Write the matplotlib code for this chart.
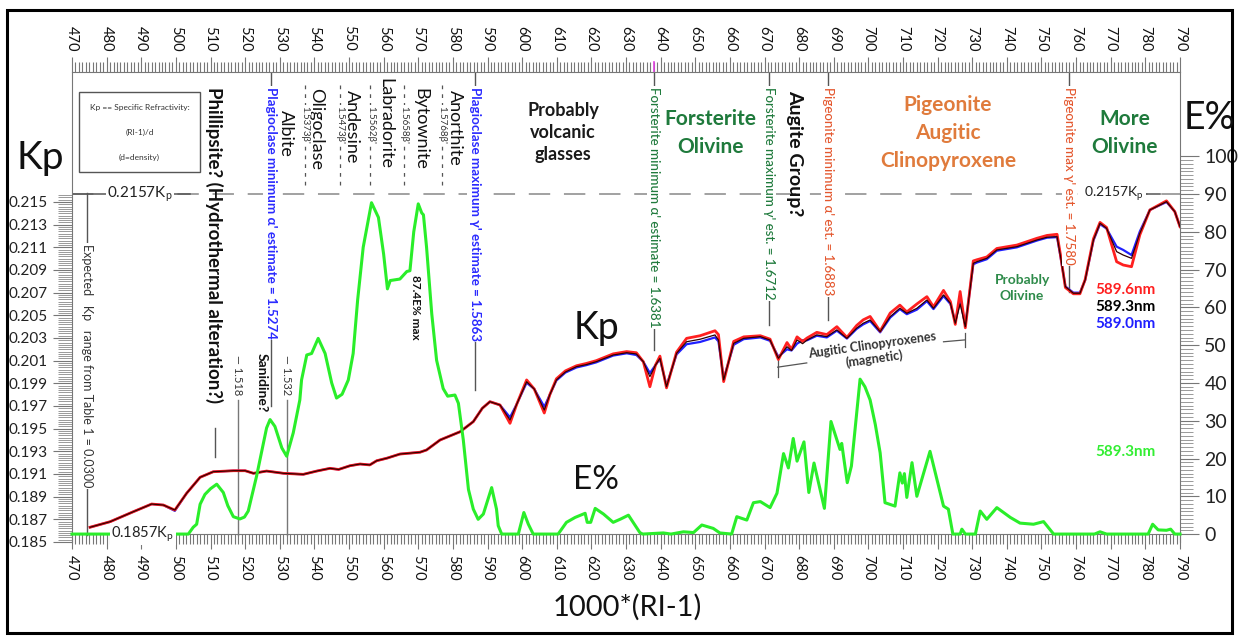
import matplotlib.pyplot as plt
from matplotlib.patches import Rectangle
from matplotlib.ticker import MultipleLocator, FixedLocator, FormatStrFormatter
import numpy as np

plt.rcParams['font.family'] = ['Lato', 'DejaVu Sans']
plt.rcParams['mathtext.default'] = 'regular'

# 1000*(RI-1) positions for the specific refractivity curves
ri = [475.2, 481.0, 487.7, 493.0, 496.4, 499.7, 503.1, 507.0, 510.8, 516.6,
      520.0, 522.4, 526.2, 531.1, 536.8, 540.7, 544.5, 547.0, 550.3, 553.2,
      556.0, 558.0, 561.0, 564.7, 570.5, 572.4, 576.3, 582.1, 585.9, 588.5,
      590.7, 593.6, 596.5, 598.5, 601.3, 603.5, 606.4, 608.0, 609.9, 612.5,
      615.7, 618.5, 621.4, 626.3, 630.2, 633.0, 635.0, 636.9, 638.5, 639.8,
      641.7, 644.6, 647.5, 651.4, 655.7, 656.7, 658.2, 661.1, 664.0, 668.8,
      671.6, 674.0, 676.5, 677.8, 679.4, 681.0, 682.3, 685.1, 688.0, 690.9,
      693.8, 696.6, 698.5, 700.5, 703.4, 706.3, 709.1, 711.1, 714.0, 716.9,
      718.8, 721.7, 723.7, 725.1, 726.5, 728.0, 730.3, 731.3, 734.2, 737.1,
      742.9, 748.7, 751.6, 754.5, 755.5, 756.9, 759.2, 761.1, 762.6, 765.0,
      766.9, 768.8, 771.7, 773.6, 776.0, 778.4, 781.3, 786.1, 788.5, 790.0]

kp_589_3 = [.18630, .18679, .18767, .18835, .18826, .18782, .18930, .19071, .19120, .19129,
            .19129, .19106, .19126, .19106, .19097, .19126, .19150, .19140, .19173, .19188,
            .19180, .19217, .19240, .19276, .19292, .19312, .19400, .19473, .19562, .19680,
            .19738, .19709, .19577, .19720, .19914, .19850, .19665, .19800, .19930, .20000,
            .20047, .20065, .20091, .20150, .20170, .20159, .20091, .19959, .20060, .20121,
            .19870, .20165, .20267, .20289, .20327, .20282, .19930, .20253, .20297, .20312,
            .20282, .20121, .20223, .20190, .20282, .20250, .20282, .20327, .20312, .20371,
            .20297, .20386, .20430, .20459, .20356, .20488, .20562, .20518, .20562, .20635,
            .20562, .20680, .20606, .20430, .20600, .20400, .20959, .20973, .21003, .21077,
            .21106, .21165, .21189, .21194, .21018, .20753, .20695, .20695, .20812, .21165,
            .21312, .21268, .21062, .21032, .21003, .21224, .21430, .21503, .21415, .21282]

kp_589_6 = [.18630, .18679, .18767, .18835, .18826, .18782, .18930, .19071, .19120, .19129,
            .19129, .19106, .19126, .19106, .19097, .19126, .19150, .19140, .19173, .19188,
            .19180, .19217, .19240, .19276, .19292, .19312, .19400, .19473, .19562, .19680,
            .19738, .19709, .19547, .19720, .19930, .19850, .19638, .19800, .19940, .20010,
            .20055, .20075, .20100, .20160, .20180, .20170, .20091, .19870, .20060, .20140,
            .19860, .20175, .20297, .20320, .20364, .20330, .19915, .20270, .20310, .20320,
            .20290, .20110, .20260, .20200, .20310, .20270, .20300, .20350, .20330, .20400,
            .20305, .20410, .20460, .20490, .20360, .20520, .20590, .20530, .20600, .20665,
            .20575, .20720, .20620, .20420, .20710, .20390, .20980, .20990, .21015, .21090,
            .21120, .21180, .21205, .21215, .21030, .20745, .20690, .20690, .20815, .21175,
            .21320, .21275, .20973, .20944, .20929, .21210, .21430, .21510, .21415, .21282]

kp_589_0 = [.18630, .18679, .18767, .18835, .18826, .18775, .18930, .19071, .19120, .19129,
            .19129, .19106, .19126, .19106, .19097, .19126, .19150, .19140, .19173, .19188,
            .19180, .19217, .19240, .19276, .19292, .19312, .19400, .19473, .19562, .19680,
            .19738, .19709, .19600, .19720, .19905, .19850, .19693, .19800, .19925, .19995,
            .20040, .20060, .20085, .20145, .20165, .20150, .20091, .19990, .20060, .20115,
            .19880, .20155, .20245, .20265, .20305, .20270, .19940, .20240, .20290, .20305,
            .20275, .20135, .20200, .20190, .20250, .20280, .20280, .20320, .20305, .20365,
            .20295, .20380, .20420, .20450, .20350, .20480, .20555, .20510, .20550, .20625,
            .20555, .20670, .20600, .20440, .20640, .20410, .20950, .20965, .20995, .21070,
            .21100, .21160, .21185, .21190, .21015, .20755, .20700, .20700, .20810, .21160,
            .21305, .21265, .21106, .21077, .21032, .21240, .21430, .21500, .21415, .21282]

# E% curve at 589.3nm
e_ri = [470.0, 503.6, 505.0, 506.0, 507.0, 508.4, 510.0, 511.8, 513.7, 515.0,
        516.6, 518.5, 519.8, 520.9, 523.3, 526.2, 527.2, 528.6, 530.6, 532.0,
        533.9, 535.8, 536.3, 537.8, 539.2, 541.1, 543.1, 545.0, 546.4, 548.0,
        549.8, 551.2, 552.5, 554.1, 556.5, 558.5, 560.0, 561.1, 561.9, 564.7,
        566.7, 567.6, 568.7, 570.0, 571.0, 571.5, 572.4, 573.9, 575.3, 577.2,
        578.5, 580.6, 581.6, 583.0, 584.5, 585.9, 587.3, 588.8, 591.2, 592.6,
        593.1, 594.1, 598.9, 600.5, 601.8, 603.2, 610.4, 612.8, 615.3, 618.2,
        618.8, 619.8, 621.1, 623.5, 626.3, 628.5, 630.7, 634.0, 634.8, 640.8,
        643.0, 646.6, 649.5, 651.9, 655.2, 657.1, 660.5, 662.0, 664.9, 666.8,
        668.8, 671.6, 673.6, 675.5, 676.9, 678.3, 679.4, 681.4, 682.8, 684.3,
        687.3, 689.2, 691.8, 692.3, 693.9, 695.1, 697.6, 699.0, 700.5, 702.0,
        703.4, 704.8, 707.7, 709.1, 709.8, 710.4, 711.1, 712.6, 714.0, 717.8,
        721.7, 723.1, 724.4, 726.5, 727.0, 728.0, 730.9, 732.3, 734.2, 737.1,
        741.0, 743.8, 747.7, 750.6, 753.5, 765.3, 766.9, 768.8, 780.8, 782.1,
        783.7, 786.1, 787.3, 788.5, 790.0]

e_pct = [0, 0, 1.8, 2.6, 7.9, 10.5, 12.0, 13.2, 11.0, 7.5,
         4.6, 4.0, 4.5, 6.1, 15.3, 28.1, 30.3, 28.5, 22.8, 20.6,
         26.8, 35.5, 40.8, 47.4, 47.8, 51.8, 47.8, 40.0, 36.0, 37.0,
         40.8, 47.8, 62.0, 75.9, 87.7, 83.8, 74.1, 64.9, 67.1, 67.5,
         69.5, 69.7, 80.0, 87.4, 85.0, 84.5, 75.9, 58.3, 46.0, 38.5,
         36.5, 36.8, 34.6, 25.0, 11.8, 6.6, 3.9, 5.3, 12.3, 6.6,
         2.2, 0, 0, 5.7, 2.6, 0, 0, 3.1, 4.4, 5.5,
         3.1, 3.1, 6.8, 5.3, 3.1, 4.0, 5.0, 0.4, 0, 0.3,
         0, 0.6, 0.4, 2.4, 1.5, 0.3, 0, 4.6, 3.7, 8.3,
         8.6, 7.0, 10.8, 21.3, 17.5, 25.3, 19.3, 24.4, 11.0, 18.8,
         6.8, 29.8, 22.4, 24.0, 13.6, 18.0, 41.0, 39.0, 35.5, 29.0,
         21.5, 8.3, 7.4, 16.2, 13.5, 16.0, 9.7, 18.9, 10.0, 21.9,
         7.4, 6.6, 0, 0, 1.3, 0, 0, 6.1, 3.9, 7.0,
         4.4, 2.9, 2.6, 3.3, 0, 0, 0.6, 0, 0, 2.6,
         1.1, 1.0, 1.3, 0, 0]

# feldspar beta' indices and mineral names
beta_ri = [537.3, 547.3, 556.2, 565.8, 576.8]
minerals = ["Albite", "Oligoclase", "Andesine", "Labradorite", "Bytownite", "Anorthite"]
mineral_ri = [531.8, 540.6, 550.9, 560.4, 570.5, 580.6]
mineral_top = [0.919, 0.966, 0.962, 0.987, 0.966, 0.962]

# estimate markers
est_ri = [527.4, 586.3, 638.1, 671.2, 688.3, 758.0]
est_text = ["Plagioclase minimum α' estimate = 1.5274",
            "Plagioclase maximum γ' estimate = 1.5863",
            "Forsterite minimum α' estimate = 1.6381",
            "Forsterite maximum γ' est. = 1.6712",
            "Pigeonite minimum α' est. = 1.6883",
            "Pigeonite max γ' est. = 1.7580"]
est_color = ['#2b2bff', '#2b2bff', '#1f7a3c', '#1f7a3c', '#e4572e', '#e4572e']
est_weight = ['bold', 'bold', 'medium', 'medium', 'medium', 'medium']
est_end = [0.29, 0.323, 0.408, 0.462, 0.472, 0.532]

GREEN = '#1f7a3c'

fig = plt.figure(figsize=(12.38, 6.36), dpi=100)
ax = fig.add_axes([0.05816, 0.1478, 0.89499, 0.73899])
ax.set_xlim(470, 790)
ax.set_ylim(0.185, 0.22647)
ax2 = ax.twinx()
ax2.set_ylim(-2.1, 122.3)

trans = ax.get_xaxis_transform()

# curves
ax.plot(ri, kp_589_0, color='#2020ff', lw=1.6, zorder=3)
ax.plot(ri, kp_589_6, color='#ff2020', lw=2.0, zorder=3)
ax.plot(ri, kp_589_3, color='#300000', lw=0.9, zorder=3)
ax2.plot(e_ri, e_pct, color='#2aee2a', lw=2.2, zorder=3, clip_on=False)

# spines
for s in ['top', 'left']:
    ax.spines[s].set_color('#777')
ax.spines['right'].set_visible(False)
ax.spines['bottom'].set_position(('data', 0.1857))
ax.spines['bottom'].set_color('#777')
for s in ['top', 'left', 'bottom']:
    ax2.spines[s].set_visible(False)
ax2.spines['right'].set_color('#777')

# x ticks top and bottom
ax.xaxis.set_major_locator(MultipleLocator(10))
ax.xaxis.set_minor_locator(MultipleLocator(1))
ax.tick_params(axis='x', which='both', top=True, labeltop=True, bottom=True,
               labelbottom=True, direction='out', color='#777', width=0.8)
ax.tick_params(axis='x', which='major', length=11, labelsize=10.5,
               labelrotation=-90, labelcolor='#111', pad=4)
ax.tick_params(axis='x', which='minor', length=7)

# left Kp ticks
ax.yaxis.set_major_locator(FixedLocator(np.arange(0.185, 0.2151, 0.002)))
ax.yaxis.set_minor_locator(FixedLocator(np.arange(0.185, 0.2158, 0.0002)))
ax.yaxis.set_major_formatter(FormatStrFormatter('%.3f'))
ax.tick_params(axis='y', which='major', length=14, labelsize=11, color='#777',
               labelcolor='#222')
ax.tick_params(axis='y', which='minor', length=10, color='#999', width=0.7)

# right E% ticks
ax2.yaxis.set_major_locator(FixedLocator(np.arange(0, 101, 10)))
ax2.yaxis.set_minor_locator(FixedLocator(np.arange(0, 101, 1)))
ax2.tick_params(axis='y', which='major', length=14, labelsize=14, color='#777',
                labelcolor='#222')
ax2.tick_params(axis='y', which='minor', length=9, color='#999', width=0.7)

white = dict(facecolor='white', edgecolor='none', pad=1.0)

# 0.2157 / 0.1857 Kp limits
ax.axhline(0.2157, color='#888', lw=1.1, ls=(0, (14, 9)), zorder=1)
ax.plot([470, 504.1], [0.2157, 0.2157], color='#555', lw=1.1, zorder=1)
ax.plot([778.5, 784.2], [0.2157, 0.2157], color='#555', lw=1.1, zorder=1)
ax.text(489.6, 0.2157, "0.2157K$_p$", fontsize=11, ha='center', va='center',
        color='#222', bbox=white, zorder=4)
ax.text(771.0, 0.2157, "0.2157K$_p$", fontsize=10, ha='center', va='center',
        color='#222', bbox=white, zorder=4)
ax2.text(490.5, 0, "0.1857K$_p$", fontsize=10.5, ha='center', va='center',
         color='#222', bbox=white, zorder=5)
ax.axvline(474.3, ymin=0.0149, ymax=0.7426, color='#555', lw=1)
ax.text(474.3, 0.3745, "Expected   Kp   range from Table 1 = 0.0300",
        rotation=-90, ha='center', va='center', fontsize=9, color='#333',
        transform=trans, bbox=white, zorder=4)
ax.plot([638.1, 638.1], [1.0, 1.022], transform=trans, color='#e040e0',
        lw=1.2, clip_on=False)

# legend box
ax.add_patch(Rectangle((472.0, 0.787), 35.0, 0.17, transform=trans,
                       fill=False, edgecolor='#555', lw=1))
for t, yy in zip(["Kp == Specific Refractivity:", "(RI-1)/d", "(d=density)"],
                 [0.9255, 0.872, 0.819]):
    ax.text(489.5, yy, t, transform=trans, fontsize=6, ha='center',
            va='center', color='#333')

# estimate markers
for x, t, c, w, e in zip(est_ri, est_text, est_color, est_weight, est_end):
    ax.axvline(x, ymin=e, ymax=1.0, color='#555', lw=1, zorder=2)
    ax.text(x, 0.968, t, rotation=-90, ha='center', va='top', fontsize=9.6,
            color=c, weight=w, transform=trans, bbox=white, zorder=4)

# feldspar beta' markers
for b in beta_ri:
    ax.axvline(b, ymin=0.76, ymax=0.983, color='#555', lw=0.9,
               ls=(0, (3, 4)), zorder=2)
    ax.text(b, 0.887, f"{1 + b / 1000:.4f}β'", rotation=-90, ha='center',
            va='center', fontsize=7, color='#333', transform=trans,
            bbox=white, zorder=4)
for name, x, top in zip(minerals, mineral_ri, mineral_top):
    ax.text(x, top, name, rotation=-90, ha='center', va='top', fontsize=13,
            color='#111', transform=trans)

# other vertical labels
ax.text(510.9, 0.968, "Phillipsite? (Hydrothermal alteration?)", rotation=-90,
        ha='center', va='top', fontsize=13.5, weight='bold', color='#111',
        transform=trans)
ax.axvline(511.3, ymin=0.181, ymax=0.243, color='#555', lw=1)
ax.text(524.9, 0.402, "Sanidine?", rotation=-90, ha='center', va='top',
        fontsize=10, weight='bold', color='#111', transform=trans)
for x, t in zip([517.9, 532.0], ["— 1.518", "— 1.532"]):
    ax.text(x, 0.398, t, rotation=-90, ha='center', va='top', fontsize=8,
            color='#333', transform=trans)
    ax.axvline(x, ymin=0.0149, ymax=0.302, color='#777', lw=1)
ax.text(569.3, 0.568, "87.4E% max", rotation=-90, ha='center', va='top',
        fontsize=8.5, weight='bold', color='#111', transform=trans)
ax.text(678.8, 0.962, "Augite Group?", rotation=-90, ha='center', va='top',
        fontsize=14, weight='bold', color='#111', transform=trans)

# region labels
ax.text(611.8, 0.872, "Probably\nvolcanic\nglasses", ha='center', va='center',
        fontsize=13, weight='bold', color='#1a1a1a', linespacing=1.35,
        transform=trans)
ax.text(654.5, 0.870, "Forsterite\nOlivine", ha='center', va='center',
        fontsize=15, weight='bold', color=GREEN, linespacing=1.5,
        transform=trans)
ax.text(723.0, 0.870, "Pigeonite\nAugitic\nClinopyroxene", ha='center',
        va='center', fontsize=15, weight='bold', color='#e07b3c',
        linespacing=1.5, transform=trans)
ax.text(774.1, 0.870, "More\nOlivine", ha='center', va='center', fontsize=15,
        weight='bold', color=GREEN, linespacing=1.5, transform=trans)
ax.text(744.4, 0.540, "Probably\nOlivine", ha='center', va='center',
        fontsize=10, weight='bold', color='#2e8b4a', linespacing=1.4,
        transform=trans)
ax.text(701.3, 0.404, "Augitic Clinopyroxenes\n(magnetic)", rotation=8,
        ha='center', va='center', fontsize=9, weight='bold', color='#333',
        transform=trans, rotation_mode='anchor')
ax.plot([673.8, 682.2], [0.372, 0.381], transform=trans, color='#555', lw=0.9)
ax.plot([673.8, 673.8], [0.351, 0.387], transform=trans, color='#555', lw=0.9)
ax.plot([721.7, 727.9], [0.426, 0.430], transform=trans, color='#555', lw=0.9)
ax.plot([727.9, 727.9], [0.415, 0.445], transform=trans, color='#555', lw=0.9)

# wavelength labels
for t, c, yy in zip(["589.6nm", "589.3nm", "589.0nm"],
                    ['#ff2020', 'black', '#2020ff'], [0.536, 0.500, 0.464]):
    ax.text(774.1, yy, t, ha='center', va='center', fontsize=11,
            weight='bold', color=c, transform=trans)
ax.text(774.1, 0.1915, "589.3nm", ha='center', va='center', fontsize=11,
        weight='bold', color='#33ee33', transform=trans)

ax.text(621.6, 0.455, "Kp", ha='center', va='center', fontsize=27,
        color='#111', transform=trans)
ax.text(621.3, 0.132, "E%", ha='center', va='center', fontsize=24,
        color='#111', transform=trans)

fig.text(0.0323, 0.7516, "Kp", ha='center', va='center', fontsize=28, color='#111')
fig.text(0.9766, 0.8145, "E%", ha='center', va='center', fontsize=27, color='#111')
fig.text(0.5065, 0.0456, "1000*(RI-1)", ha='center', va='center', fontsize=21,
         color='#111')

fig.add_artist(Rectangle((0.0057, 0.0047), 0.9895, 0.9796,
                         transform=fig.transFigure, fill=False, lw=2.2,
                         edgecolor='black'))

fig.savefig("out.png", dpi=100)
